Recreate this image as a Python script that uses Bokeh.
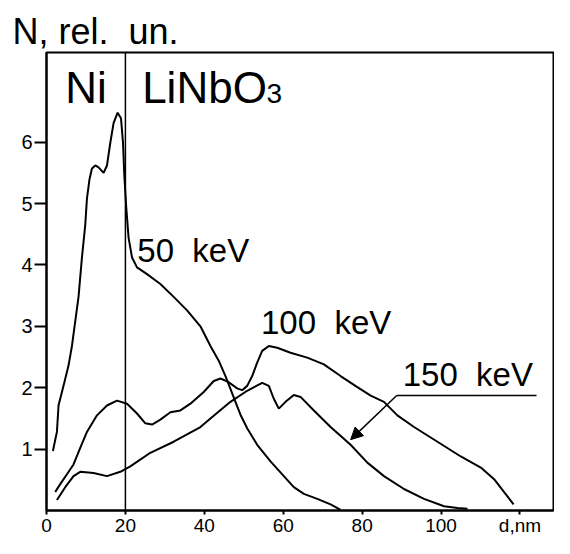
from bokeh.plotting import figure
from bokeh.models import Range1d, FixedTicker, Label, Arrow, NormalHead, Title
from bokeh.embed import file_html
from bokeh.resources import INLINE

# ---- data (depth d in nm, N in relative units) ----
depth_50 = [1.62, 2.64, 3.05, 4.31, 5.58, 6.45, 7.11, 8.12, 8.98, 9.82, 10.25, 10.91,
            11.52, 12.36, 13.2, 14.47, 15.33, 16.17, 17.0, 18.02, 18.88, 19.39, 19.72,
            20.23, 20.81, 21.68, 22.94, 25.48, 28.86, 32.23, 35.63, 39.01, 41.55, 43.65,
            45.36, 46.62, 47.89, 49.16, 50.86, 53.40, 56.78, 60.15, 62.69, 65.23, 68.63,
            72.0, 74.54]
n_50 = [0.97, 1.28, 1.71, 2.03, 2.36, 2.68, 3.00, 3.48, 4.12, 4.65, 5.08, 5.40,
        5.57, 5.62, 5.59, 5.50, 5.62, 5.99, 6.31, 6.48, 6.39, 5.99, 5.46,
        4.92, 4.44, 4.12, 3.96, 3.85, 3.69, 3.48, 3.26, 3.00, 2.68, 2.44,
        2.19, 1.98, 1.77, 1.56, 1.34, 1.07, 0.80, 0.56, 0.38, 0.27, 0.19,
        0.10, 0.01]

depth_100 = [2.21, 3.48, 5.18, 6.85, 8.55, 10.25, 12.79, 15.33, 17.87, 20.41, 22.94,
             25.05, 26.75, 28.86, 31.40, 33.93, 36.47, 39.85, 42.39, 44.09, 46.19,
             48.32, 49.59, 50.86, 52.13, 53.40, 54.67, 56.35, 58.48, 61.85, 66.09,
             70.30, 74.54, 78.78, 82.16, 85.53, 88.93, 93.15, 99.09, 105.0, 110.08,
             113.45, 115.99, 118.38]
n_100 = [0.30, 0.43, 0.59, 0.75, 1.02, 1.28, 1.55, 1.71, 1.79, 1.74, 1.58,
         1.42, 1.40, 1.48, 1.60, 1.63, 1.74, 1.93, 2.11, 2.15, 2.09,
         1.99, 1.96, 2.03, 2.19, 2.41, 2.60, 2.68, 2.65, 2.57, 2.49,
         2.38, 2.19, 2.01, 1.87, 1.77, 1.55, 1.36, 1.12, 0.88, 0.70,
         0.51, 0.30, 0.10]

depth_150 = [2.64, 4.75, 6.85, 8.55, 11.93, 15.33, 18.71, 21.24, 26.32, 32.23, 39.01,
             41.55, 46.62, 50.86, 54.67, 56.35, 57.61, 58.88, 60.58, 62.69, 64.39,
             67.77, 72.0, 77.08, 81.32, 85.53, 90.61, 95.69, 100.76, 104.16, 106.7]
n_150 = [0.17, 0.38, 0.56, 0.63, 0.61, 0.56, 0.63, 0.72, 0.94, 1.12, 1.36,
         1.50, 1.77, 1.95, 2.08, 2.03, 1.82, 1.66, 1.77, 1.88, 1.85,
         1.63, 1.36, 1.07, 0.78, 0.56, 0.35, 0.19, 0.07, 0.04, 0.03]

x_ticks = [0, 20, 40, 60, 80, 100, 120]
x_tick_labels = {0: "0", 20: "20", 40: "40", 60: "60", 80: "80", 100: "100", 120: "d,nm"}
y_ticks = [1, 2, 3, 4, 5, 6]
interface_depth = 20
box_x = (0, 128.5)
box_y = (0, 7.46)

FONT = "Liberation Sans"

p = figure(width=554, height=538, output_backend="svg", toolbar_location=None,
           x_range=Range1d(*box_x), y_range=Range1d(*box_y),
           min_border_left=46, min_border_right=1, min_border_top=52,
           min_border_bottom=25, background_fill_color="white",
           border_fill_color="white")
p.grid.visible = False
p.outline_line_color = "black"
p.outline_line_width = 2

for ax in (p.xaxis[0], p.yaxis[0]):
    ax.axis_line_width = 2
    ax.axis_line_color = "black"
    ax.major_tick_line_width = 2
    ax.major_tick_line_color = "black"
    ax.major_tick_in = 0
    ax.minor_tick_line_color = None
    ax.major_label_text_font = FONT
    ax.major_label_text_color = "black"

p.xaxis.ticker = FixedTicker(ticks=x_ticks)
p.xaxis.major_label_overrides = x_tick_labels
p.xaxis.major_tick_out = 4
p.xaxis.major_label_standoff = 0
p.xaxis.major_label_text_font_size = "19px"
p.yaxis.ticker = FixedTicker(ticks=y_ticks)
p.yaxis.major_tick_out = 12
p.yaxis.major_label_standoff = 2
p.yaxis.major_label_text_font_size = "20px"

# y-axis name above the plot box
p.add_layout(Title(text="N, rel.\u00a0\u00a0un.", align="left", offset=-34, standoff=2,
                   text_font=FONT, text_font_size="36px", text_font_style="normal",
                   text_color="black"), "above")

# Ni / LiNbO3 interface
p.segment(x0=[interface_depth], y0=[box_y[0]], x1=[interface_depth], y1=[box_y[1]],
          line_color="black", line_width=1.5)

for xs, ys in ((depth_50, n_50), (depth_100, n_100), (depth_150, n_150)):
    p.line(xs, ys, line_color="black", line_width=2)

# leader + arrow for 150 keV
p.line([88.76, 124.2], [1.872, 1.872], line_color="black", line_width=1.5)
p.add_layout(Arrow(end=NormalHead(size=12, fill_color="black", line_color="black"),
                   x_start=88.76, y_start=1.872, x_end=77.08, y_end=1.154,
                   line_color="black", line_width=1.5))

def lab(txt, x, y, size, align="left"):
    p.add_layout(Label(x=x, y=y, text=txt, text_font=FONT, text_font_size=size,
                       text_color="black", text_align=align,
                       text_baseline="alphabetic"))

lab("Ni", 4.75, 6.893, "44px")
lab("LiNbO", 24.24, 6.893, "44px")
lab("3", 55.76, 6.798, "28px")
lab("50\u00a0\u00a0keV", 23.02, 4.238, "33px")
lab("100\u00a0\u00a0keV", 54.37, 3.061, "33px")
lab("150\u00a0\u00a0keV", 90.28, 2.220, "33px")

open("out.html", "w").write(file_html(p, INLINE))
